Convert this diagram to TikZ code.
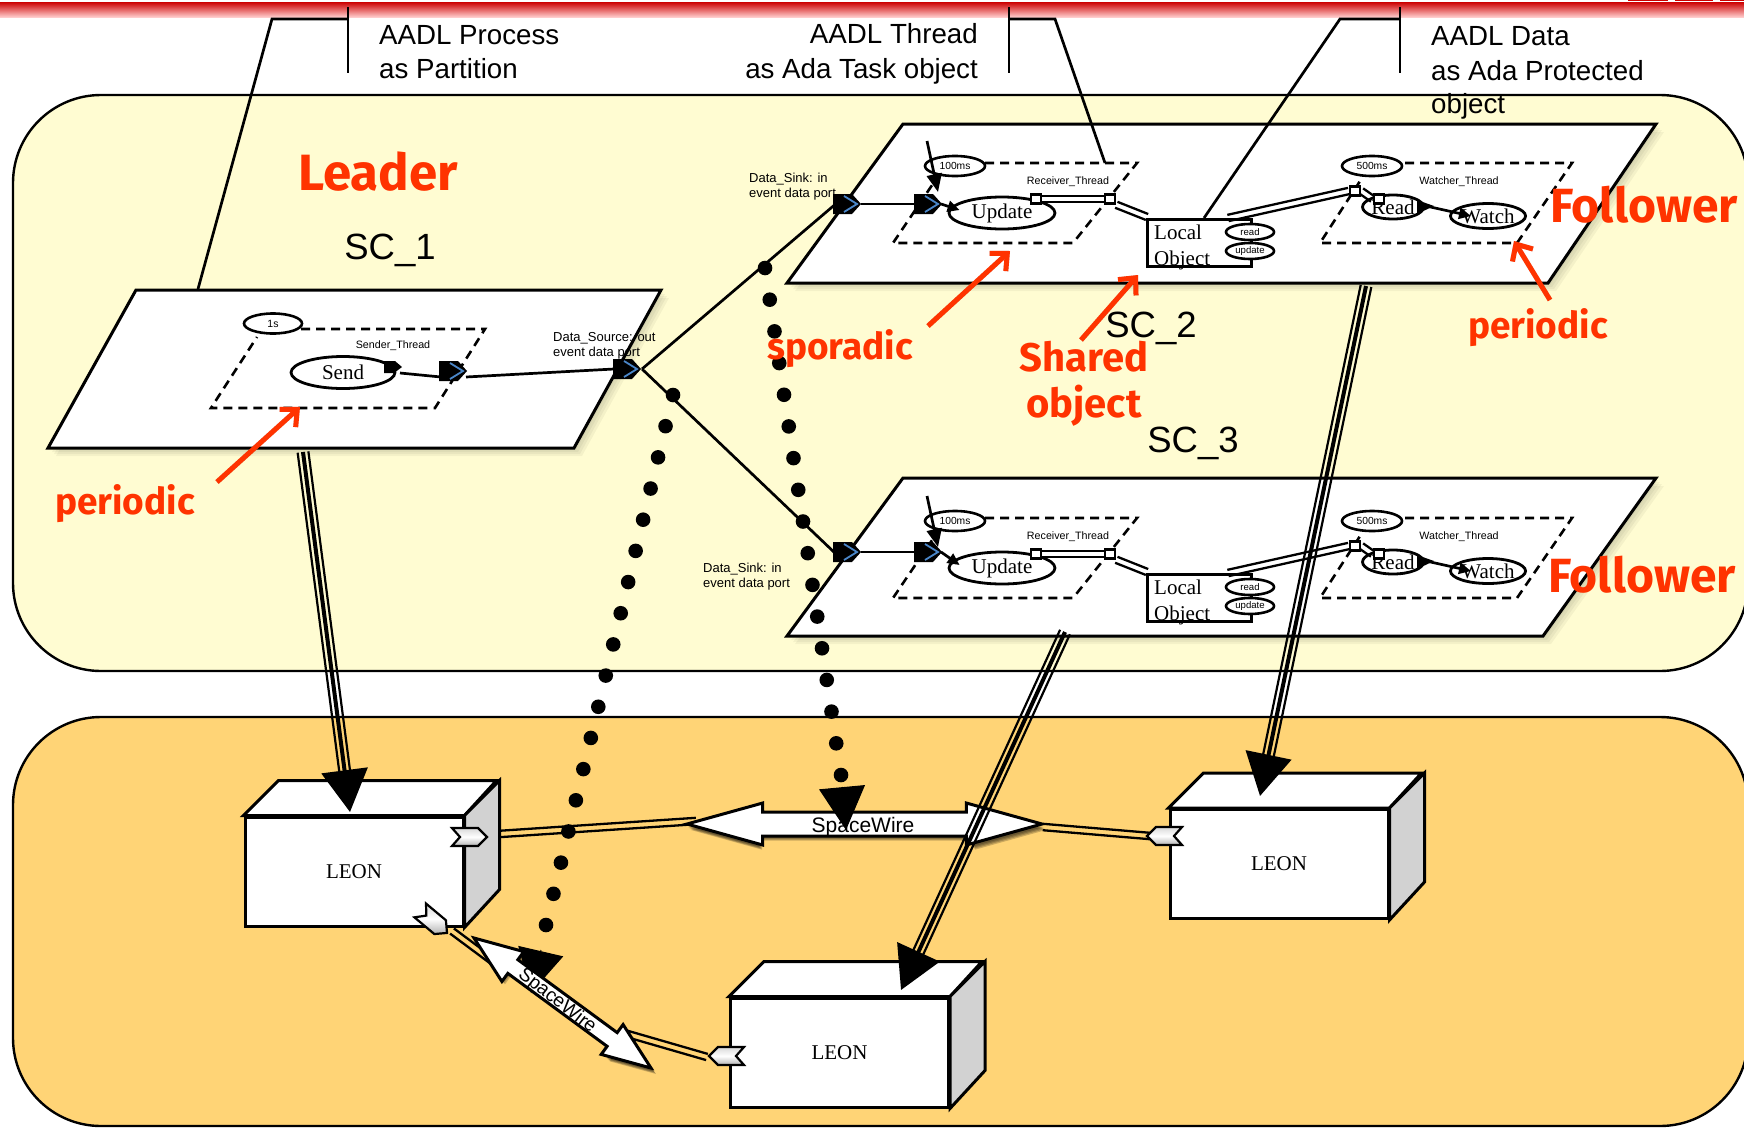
\documentclass[tikz,border=0pt]{standalone}
\usepackage{fontspec}
\setmainfont{Liberation Sans}
\newfontfamily\tms{Liberation Serif}
\newfontfamily\handf{Fira Sans}
\usetikzlibrary{arrows.meta,calc,shapes.geometric,shapes.arrows}
\definecolor{panelY}{HTML}{FFFCD2}
\definecolor{panelO}{HTML}{FFD476}
\definecolor{redT}{HTML}{FF3300}
\definecolor{portB}{HTML}{4A86C8}
\newcommand\fs[1]{\fontsize{#1}{#1}\selectfont}
\tikzset{
  x=1pt,y=-1pt,
  panel/.style={draw=black,line width=2.4pt,rounded corners=88pt},
  plane/.style={draw=black,fill=white,line width=3pt,line join=miter},
  dashbox/.style={line width=2.6pt,dash pattern=on 9pt off 6pt},
  conn/.style={line width=2.7pt},
  label1/.style={font=\fs{27.7},inner sep=0pt,align=left,anchor=west},
  sclabel/.style={font=\fs{36.5},inner sep=0pt},
  small/.style={font=\fs{13},inner sep=0pt,align=left,anchor=west},
  tname/.style={font=\fs{10.7},inner sep=0pt},
  handt/.style={text=redT,inner sep=0pt},
  evt/.style={ellipse,draw=black,fill=white,line width=2.6pt,inner sep=0pt,minimum width=60pt,minimum height=20pt,font=\fs{10.3}},
  act/.style={ellipse,draw=black,fill=white,line width=2.8pt,inner sep=0pt,font=\tms\fs{21}},
  op/.style={ellipse,draw=black,fill=white,line width=2.6pt,inner sep=0pt,minimum width=48pt,minimum height=16pt,font=\fs{9.6}},
  sq/.style={rectangle,draw=black,fill=white,line width=2.6pt,inner sep=0pt,minimum width=10pt,minimum height=9pt},
  flow/.style={line width=2.7pt,-{Triangle[length=12pt,width=11pt]}},
  leon/.style={rectangle,draw=black,fill=white,line width=3pt,inner sep=0pt,minimum width=218pt,minimum height=109pt,font=\tms\fs{21}},
  spw/.style={double arrow,inner sep=0pt,double arrow head indent=0pt},
  spwH/.style={spw,minimum height=355pt,minimum width=39pt,double arrow head extend=9pt,double arrow tip angle=31,text height=10.5pt,text depth=10.5pt},
  spwD/.style={spw,rotate=-36.3,minimum height=219.6pt,minimum width=34pt,double arrow head extend=10pt,double arrow tip angle=42,text height=7pt,text depth=7pt},
  spwface/.style={draw=black,fill=white,line width=3pt},
  spwshadow/.style={fill=black,opacity=.2},
  redarr/.style={draw=redT,line width=5pt,-{Straight Barb[length=13pt,width=24pt,line width=5pt]}},
  redshadow/.style={draw=black,opacity=.18,line width=5pt,-{Straight Barb[length=13pt,width=24pt,line width=5pt]}},
  blueport/.pic={
    \fill[black] (-14,-10)--(5,-10)--(14,0)--(5,10)--(-14,10)--cycle;
    \draw[portB,line width=1.8pt] (-3,-8)--(10,0)--(-3,8);
  },
  grayport/.pic={
    \draw[black,line width=2.2pt,top color=gray!30,bottom color=gray!60,middle color=white]
      (-18,-9)--(8,-9)--(17,0)--(8,9)--(-18,9)--(-10,0)--cycle;
  },
}
\newcommand\dbl[2]{%
  \draw[line width=2.3pt] ($(#1)!3.2pt!90:(#2)$) -- ($(#2)!3.2pt!-90:(#1)$);
  \draw[line width=2.3pt] ($(#1)!3.2pt!-90:(#2)$) -- ($(#2)!3.2pt!90:(#1)$);
}
\newcommand\triple[2]{%
  \draw[line width=2.2pt,shorten >=40pt] ($(#1)!5.4pt!90:(#2)$) -- ($(#2)!5.4pt!-90:(#1)$);
  \draw[line width=2.2pt,shorten >=40pt] ($(#1)!5.4pt!-90:(#2)$) -- ($(#2)!5.4pt!90:(#1)$);
  \draw[line width=4pt,-{Triangle[length=42pt,width=46pt]}] (#1) -- (#2);
}
\newcommand\soft[1]{%
  \foreach \o in {2,4,6,8}{\fill[black,opacity=.045,shift={(\o,\o)}] #1;}
}
% #1 name suffix, #2 y shift of the group, #3 y of the two data ports, #4 place of the port text
\newcommand\follower[4]{%
  \node[small] (sink#1) at (#4) {Data\_Sink: in\\[2pt]event data port};
  \draw[dashbox] (985,163+#2) -- (1137,163+#2) -- (1073,243+#2) -- (893,243+#2) -- (947,163+#2);
  \draw[dashbox] (1405,163+#2) -- (1572,163+#2) -- (1517,243+#2) -- (1320,243+#2) -- (1362,178+#2);
  \node[evt] (per#1) at (955,166+#2) {100ms};
  \node[evt] (wper#1) at (1372,166+#2) {500ms};
  \node[tname] (rth#1) at (1068,181.5+#2) {Receiver\_Thread};
  \node[tname] (wth#1) at (1459,181.5+#2) {Watcher\_Thread};
  \coordinate (trig#1) at (927,141+#2);
  \coordinate (trigend#1) at (938,192+#2);
  \draw[line width=2.7pt,-{Triangle[length=18pt,width=15pt]}] (trig#1) -- (trigend#1);
  \node[act,minimum width=106pt,minimum height=32pt] (upd#1) at (1002,213+#2) {Update};
  \node[rectangle,draw=black,fill=white,line width=3pt,minimum width=104pt,minimum height=47pt,inner sep=0pt] (obj#1) at (1199,242.5+#2) {};
  \node[font=\tms\fs{21},inner sep=0pt,align=left,anchor=west] (objt#1) at (1154,247.5+#2) {Local\\[5.5pt]Object};
  \node[op] (rd#1) at (1250,232+#2) {read};
  \node[op] (up#1) at (1250,251+#2) {update};
  \node[act,minimum width=58pt,minimum height=24pt] (read#1) at (1393,207+#2) {Read};
  \node[act,minimum width=60pt,minimum height=25pt] (watch#1) at (1488,216+#2) {Watch};
  \node[sq] (s1#1) at (1036,199+#2) {};
  \node[sq] (s2#1) at (1110,199+#2) {};
  \node[sq] (s3#1) at (1355,191+#2) {};
  \node[sq] (s4#1) at (1379,199+#2) {};
  \coordinate (oa#1) at (1147,217+#2);
  \coordinate (ob#1) at (1228,218+#2);
  \dbl{s1#1.east}{s2#1.west}
  \dbl{s2#1.south east}{oa#1}
  \dbl{ob#1}{s3#1.west}
  \dbl{s3#1.east}{s4#1.west}
  \fill[black] (1417,200+#2) -- (1434,206+#2) -- (1417,214+#2) -- cycle;
  \draw[flow] (1426,206+#2) -- (1471,216+#2);
  \pic at (847,#3) {blueport};
  \pic at (928,#3) {blueport};
  \coordinate (pa#1) at (861,#3);
  \coordinate (pb#1) at (915,#3);
  \coordinate (pc#1) at (941,#3);
  \draw[conn] (pa#1) -- (pb#1);
  \draw[flow] (pc#1) -- ($(upd#1.west)+(12,-3)$);
}
\begin{document}
\begin{tikzpicture}
\useasboundingbox (0,0) rectangle (1744,1127);
\fill[white] (0,0) rectangle (1744,1127);
% top band
\shade[top color=red!80!black,bottom color=red!20!white] (0,2) rectangle (1744,17);
\fill[red!80!black] (1628,0) rectangle (1668,1.4);
\fill[red!80!black] (1675,0) rectangle (1713,1.4);
\fill[red!80!black] (1720,0) rectangle (1744,1.4);
% panels
\path[panel,fill=panelY] (13,95) rectangle (1748,671);
\path[panel,fill=panelO] (13,717) rectangle (1748,1126);
% planes
\soft{(136,290)--(661,290)--(574,448)--(48,448)--cycle}
\soft{(903,124)--(1656,124)--(1548,283)--(787,283)--cycle}
\soft{(903,478)--(1656,478)--(1543,636)--(787,636)--cycle}
\path[plane] (136,290)--(661,290)--(574,448)--(48,448)--cycle;
\path[plane] (903,124)--(1656,124)--(1548,283)--(787,283)--cycle;
\path[plane] (903,478)--(1656,478)--(1543,636)--(787,636)--cycle;
% callouts
\coordinate (c1a) at (348,7); \coordinate (c1b) at (348,73);
\coordinate (c1c) at (348,19); \coordinate (c1d) at (272,19); \coordinate (c1e) at (198,289);
\coordinate (c2a) at (1009,7); \coordinate (c2b) at (1009,73);
\coordinate (c2c) at (1009,19); \coordinate (c2d) at (1055,19); \coordinate (c2e) at (1105,163);
\coordinate (c3a) at (1400,7); \coordinate (c3b) at (1400,73);
\coordinate (c3c) at (1400,19); \coordinate (c3d) at (1340,19); \coordinate (c3e) at (1204,218);
\draw[conn] (c1a) -- (c1b); \draw[conn] (c1c) -- (c1d) -- (c1e);
\draw[conn] (c2a) -- (c2b); \draw[conn] (c2c) -- (c2d) -- (c2e);
\draw[conn] (c3a) -- (c3b); \draw[conn] (c3c) -- (c3d) -- (c3e);
% Leader contents
\draw[dashbox] (301,329) -- (485,329) -- (435,408) -- (211,408) -- (257,337);
\node[evt,minimum width=58pt,font=\fs{10.5}] (per1s) at (273,323.5) {1s};
\node[tname] (sth) at (393,346) {Sender\_Thread};
\node[act,minimum width=104pt,minimum height=32pt] (send) at (343,372.5) {Send};
\fill[black] (384,361) -- (395,361) -- (402,367) -- (394,373) -- (384,373) -- cycle;
\coordinate (sa) at (400,373); \coordinate (sb) at (441,377);
\coordinate (sc) at (466,377); \coordinate (sd) at (614,369);
\coordinate (src) at (642,369);
\draw[conn] (sa) -- (sb); \draw[conn] (sc) -- (sd);
\pic at (453,371) {blueport};
\pic at (627,369) {blueport};
\node[small] (dsrc) at (553,346) {Data\_Source: out\\[2pt]event data port};
% followers
\follower{a}{0}{204}{749,187}
\follower{b}{355}{552}{703,577}
\coordinate (snkA) at (838,202); \coordinate (snkB) at (836,554);
\draw[conn] (src) -- (snkA);
\draw[conn] (src) -- (snkB);
% LEON boxes
\newcommand\boxparts[1]{%
  \path[draw=black,fill=white,line width=3pt,line join=miter] (#1.north west) -- ++(35,-35) -- ++(218,0) -- (#1.north east) -- cycle;
  \path[draw=black,fill=gray!35,line width=3pt,line join=miter] (#1.north east) -- ++(35,-35) -- ++(0,109) -- (#1.south east) -- cycle;
}
\node[leon] (L1) at (354,871.5) {\raisebox{-1.5pt}{LEON}}; \boxparts{L1}
\node[leon] (L2) at (1279,864) {\raisebox{-1.5pt}{LEON}}; \boxparts{L2}
\node[leon] (L3) at (839.5,1052.5) {\raisebox{-1.5pt}{LEON}}; \boxparts{L3}
\pic at (470,837) {grayport};
\pic[rotate=180] at (1164,836) {grayport};
\pic[rotate=-40] at (434,922) {grayport};
\pic[rotate=180] at (726,1056) {grayport};
% SpaceWire links
\coordinate (l1a) at (499,834); \coordinate (l1b) at (696,821);
\coordinate (l2a) at (1043,827); \coordinate (l2b) at (1150,836);
\coordinate (l3a) at (452,931); \coordinate (l3b) at (495,963);
\coordinate (l4a) at (624,1033); \coordinate (l4b) at (707,1057);
\dbl{l1a}{l1b} \dbl{l2a}{l2b} \dbl{l3a}{l3b} \dbl{l4a}{l4b}
% dotted chain to lower-left
\coordinate (d1a) at (673,395); \coordinate (d1b) at (546,925);
\foreach \i in {0,...,17} \fill ($(d1a)!\i/17!(d1b)$) circle (7.3pt);
\coordinate (d1c) at (541,950); \coordinate (d1t) at (531,993);
\draw[line width=1pt,-{Triangle[length=43pt,width=46pt]}] (d1c) -- (d1t);
% diagonal arrow
\foreach \o in {1,2,3,4}{\node[spwD,spwshadow] (swDs\o) at (562.5+\o+1,1003+\o+2) {};}
\node[spwD,spwface] (sw2) at (562.5,1003) {};
% horizontal arrow
\foreach \o in {1,2,3,4}{\node[spwH,spwshadow] (swHs\o) at (864.5+\o,824+\o+2) {};}
\node[spwH,spwface] (sw1) at (864.5,824) {};
% triple links
\coordinate (t1a) at (303,452); \coordinate (t1b) at (350,812);
\coordinate (t2a) at (1366,286); \coordinate (t2b) at (1260,796);
\coordinate (t3a) at (1065,632); \coordinate (t3b) at (901,990);
\triple{t1a}{t1b}
\triple{t2a}{t2b}
\triple{t3a}{t3b}
% dotted chain to SpaceWire
\coordinate (d2a) at (765,268); \coordinate (d2b) at (841,775);
\foreach \i in {0,...,16} \fill ($(d2a)!\i/16!(d2b)$) circle (7.3pt);
\coordinate (d2c) at (842,787); \coordinate (d2t) at (846,830);
\draw[line width=1pt,-{Triangle[length=43pt,width=46pt]}] (d2c) -- (d2t);
\node[font=\fs{21},inner sep=0pt] (sw1t) at (863,827) {SpaceWire};
\node[font=\fs{19},inner sep=0pt,rotate=-38] (sw2t) at (557,1001) {SpaceWire};
% annotations
\node[label1] (t1) at (379,52) {AADL Process\\[7pt]as Partition};
\node[label1,align=right,anchor=east] (t2) at (978,54) {AADL Thread\\[7pt]as Ada Task object};
\node[label1] (t3) at (1431,73) {AADL Data\\[7pt]as Ada Protected\\[6pt]object};
\node[sclabel] (sc1) at (390,250) {SC\_1};
\node[sclabel] (sc2) at (1151,328) {SC\_2};
\node[sclabel] (sc3) at (1193,443) {SC\_3};
% red
\node[handt,font=\handf\bfseries\fs{51}] (lead) at (378,172) {Leader};
\node[handt,font=\handf\bfseries\fs{48}] (f1) at (1644,205) {Follower};
\node[handt,font=\handf\bfseries\fs{48}] (f2) at (1642,575) {Follower};
\node[handt,font=\handf\bfseries\fs{37}] (p1) at (125,504) {periodic};
\node[handt,font=\handf\bfseries\fs{37}] (p2) at (1538,328) {periodic};
\node[handt,font=\handf\bfseries\fs{37}] (sp) at (840,349) {sporadic};
\node[handt,font=\handf\bfseries\fs{40}] (sh) at (1084,357) {Shared};
\node[handt,font=\handf\bfseries\fs{40}] (ob) at (1084,406) {object};
\coordinate (ra1) at (217,482); \coordinate (ra2) at (300,407);
\coordinate (rb1) at (928,326); \coordinate (rb2) at (1010,251);
\coordinate (rc1) at (1081,340); \coordinate (rc2) at (1138,275);
\coordinate (rd1) at (1550,300); \coordinate (rd2) at (1514,241);
\foreach \a/\b in {ra1/ra2,rb1/rb2,rc1/rc2,rd1/rd2}{
  \draw[redshadow,shift={(2,3)}] (\a) -- (\b);
  \draw[redarr] (\a) -- (\b);
}
\end{tikzpicture}
\end{document}
